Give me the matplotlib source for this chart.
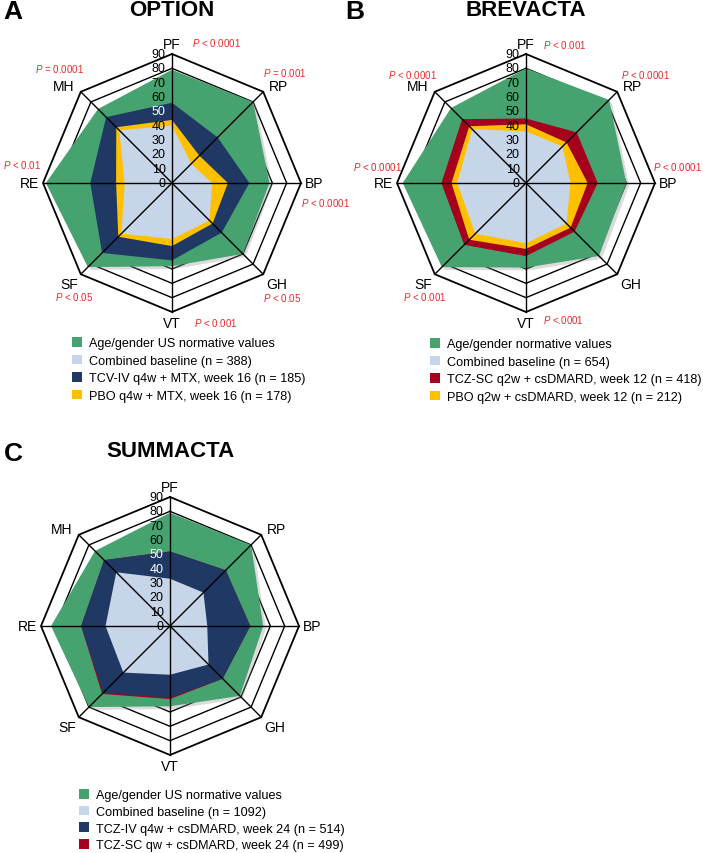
"""
SF-36 domain radar charts for OPTION, BREVACTA and SUMMACTA
(normative values vs baseline vs treatment arms).
"""

import numpy as np
import matplotlib
matplotlib.use("Agg")
import matplotlib.pyplot as plt
import matplotlib.patheffects as pe
from matplotlib.patches import Patch

plt.rcParams["font.family"] = ["Liberation Sans", "DejaVu Sans"]
plt.rcParams["mathtext.fontset"] = "custom"
plt.rcParams["mathtext.it"] = "Liberation Sans:italic"
plt.rcParams["mathtext.rm"] = "Liberation Sans"

# ---- data ----
domains = ["PF", "RP", "BP", "GH", "VT", "SF", "RE", "MH"]
ticks = [0, 10, 20, 30, 40, 50, 60, 70, 80, 90]

# OPTION
norm_a = [79, 80, 68, 70, 58, 83, 88, 73]
base_a = [40, 19, 28, 37, 39, 50, 33, 52]
tcv_a = [56, 45, 54, 49, 54, 69, 57, 65]
pbo_a = [44, 27, 39, 40, 44, 53, 39, 55]
pvals_a = ["< 0.0001", "= 0.001", "< 0.0001", "< 0.05", "< 0.001", "< 0.05", "< 0.01", "= 0.0001"]

# BREVACTA
norm_b = [80, 82, 70, 72, 59, 83, 86, 74]
base_b = [36, 36, 31, 40, 42, 50, 48, 53]
tcz_b = [45, 50, 50, 48, 51, 61, 59, 63]
pbo_b = [41, 40, 43, 44, 46, 56, 52, 56]
pvals_b = ["< 0.001", "< 0.0001", "< 0.0001", None, "<.0001", "< 0.001", "< 0.0001", "< 0.0001"]

# SUMMACTA
norm_c = [79, 80, 65, 69, 56, 80, 83, 74]
base_c = [33, 33, 26, 38, 34, 46, 45, 53]
tcziv_c = [52, 55, 56, 52, 50, 66, 62, 65]
tczsc_c = [52, 55, 56, 52, 51, 67, 62, 65]

GREEN = "#46a370"
LIGHT = "#c7d5e8"
NAVY = "#1f3864"
GOLD = "#ffc000"
RED = "#a5001e"
PRED = "#e82a2a"

W, H = 703, 854
fig = plt.figure(figsize=(W / 100, H / 100), dpi=100)

angles = np.arange(len(domains)) * 2 * np.pi / len(domains)
closed = np.append(angles, angles[0])


def px(x, y):
    return x / W, 1 - y / H


def radar(cx, cy, r, title, title_y, letter, letter_x, series, white_ticks):
    ax = fig.add_axes([(cx - r) / W, (H - cy - r) / H, 2 * r / W, 2 * r / H],
                      projection="polar")
    ax.set_theta_zero_location("N")
    ax.set_theta_direction(-1)
    ax.set_ylim(0, 90)
    ax.grid(False)
    ax.set_xticks([])
    ax.set_yticks([])
    ax.spines["polar"].set_visible(False)
    ax.patch.set_visible(False)

    # octagon rings behind the fills
    for t in ticks[1:]:
        ax.plot(closed, [t] * len(closed), color="black",
                lw=1.3 if t == 90 else 1.0, zorder=1, clip_on=False)

    for i, (vals, col) in enumerate(series):
        v = np.append(vals, vals[0])
        poly = ax.fill(closed, v, color=col, lw=0, zorder=2 + i, clip_on=False)[0]
        if i == 0:
            poly.set_path_effects([pe.SimplePatchShadow(offset=(2, -2),
                                                        shadow_rgbFace="#888888",
                                                        alpha=0.3),
                                   pe.Normal()])

    # spokes on top
    for a in angles:
        ax.plot([a, a], [0, 90], color="black", lw=1.0, zorder=10, clip_on=False)

    # radial tick labels along the PF spoke
    off = matplotlib.transforms.ScaledTranslation(-4.5 / 72, 0, fig.dpi_scale_trans)
    for t in ticks:
        ax.text(0, t, str(t), ha="right", va="center", fontsize=9,
                color="white" if t in white_ticks else "black",
                transform=ax.transData + off, zorder=11)

    # domain labels
    align = [("center", "bottom", 92), ("left", "center", 96), ("left", "center", 93),
             ("left", "top", 93), ("center", "top", 93), ("right", "top", 93),
             ("right", "center", 93), ("right", "center", 96)]
    for a, lab, (ha, va, rr) in zip(angles, domains, align):
        ax.text(a, rr, lab, ha=ha, va=va, fontsize=10, zorder=11)

    fig.text(*px(cx, title_y), title, ha="center", va="center", fontsize=16,
             fontweight="bold")
    fig.text(*px(letter_x, title_y + 2), letter, ha="left", va="center", fontsize=19,
             fontweight="bold")
    return ax


def pvalue_labels(texts, spots):
    for txt, (x, y) in zip(texts, spots):
        if txt is None:
            continue
        fig.text(*px(x, y), r"$\it{P}$ " + txt, ha="left", va="center",
                 fontsize=7.0, color=PRED)


def legend(x, y, labels, colors, spacing):
    handles = [Patch(facecolor=c, edgecolor="none") for c in colors]
    fig.legend(handles, labels, loc="upper left", bbox_to_anchor=px(x, y),
               frameon=False, fontsize=9.1, handlelength=0.8, handleheight=0.8,
               handletextpad=0.55, labelspacing=spacing, borderpad=0, borderaxespad=0)


# ---- A: OPTION ----
radar(172, 184, 129, "OPTION", 10, "A", 3,
      [(norm_a, GREEN), (tcv_a, NAVY), (pbo_a, GOLD), (base_a, LIGHT)], [50])
pvalue_labels(pvals_a, [(192, 43), (263, 73), (301, 203), (263, 298),
                        (194, 323), (55, 297), (3, 165), (35, 69)])
legend(72, 338,
       ["Age/gender US normative values", "Combined baseline (n = 388)",
        "TCV-IV q4w + MTX, week 16 (n = 185)", "PBO q4w + MTX, week 16 (n = 178)"],
       [GREEN, LIGHT, NAVY, GOLD], 0.42)

# ---- B: BREVACTA ----
radar(526, 184, 129, "BREVACTA", 10, "B", 345,
      [(norm_b, GREEN), (tcz_b, RED), (pbo_b, GOLD), (base_b, LIGHT)], [])
pvalue_labels(pvals_b, [(543, 45), (621, 75), (653, 167), (0, 0),
                        (543, 320), (403, 297), (353, 167), (388, 75)])
legend(430, 339,
       ["Age/gender normative values", "Combined baseline (n = 654)",
        "TCZ-SC q2w + csDMARD, week 12 (n = 418)", "PBO q2w + csDMARD, week 12 (n = 212)"],
       [GREEN, LIGHT, RED, GOLD], 0.42)

# ---- C: SUMMACTA ----
radar(170, 627, 129, "SUMMACTA", 452, "C", 4,
      [(norm_c, GREEN), (tczsc_c, RED), (tcziv_c, NAVY), (base_c, LIGHT)], [40, 50])
legend(79, 790,
       ["Age/gender US normative values", "Combined baseline (n = 1092)",
        "TCZ-IV q4w + csDMARD, week 24 (n = 514)", "TCZ-SC qw + csDMARD, week 24 (n = 499)"],
       [GREEN, LIGHT, NAVY, RED], 0.35)

plt.savefig("out.png", dpi=100)
